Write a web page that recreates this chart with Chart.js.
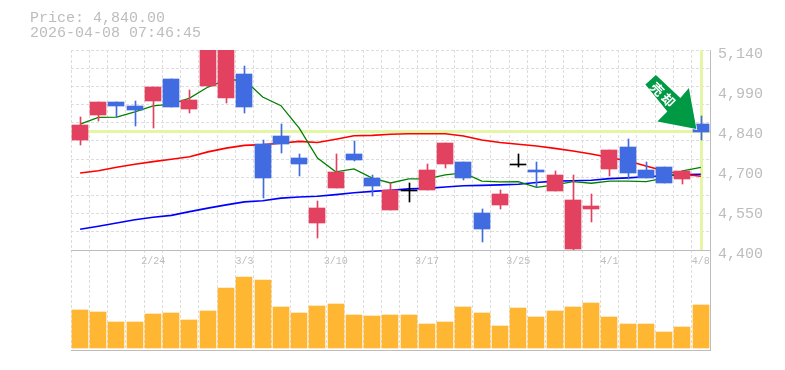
<!DOCTYPE html>
<html>
<head>
<meta charset="utf-8">
<style>html,body{margin:0;padding:0;background:#fff}canvas{display:block}</style>
<script src="https://cdn.jsdelivr.net/npm/chart.js@4"></script>
</head>
<body>
<canvas id="c" width="785" height="370"></canvas>
<script>
const categories = ['2/17','2/18','2/19','2/20','2/24','2/25','2/26','2/27','3/2','3/3','3/4','3/5','3/6','3/9','3/10','3/11','3/12','3/13','3/16','3/17','3/18','3/19','3/23','3/24','3/25','3/26','3/27','3/30','3/31','4/1','4/2','4/3','4/6','4/7','4/8'];
const xTickLabels = ['2/24','3/3','3/10','3/17','3/25','4/1','4/8'];
const bodyHigh = [4862,4948,4948,4933,5003,5033,4955,5170,5170,5051,4792,4822,4740,4555,4689,4755,4666,4622,4622,4696,4796,4726,4537,4607,4718,4696,4678,4585,4563,4770,4781,4696,4707,4692,4866];
const bodyLow  = [4807,4900,4933,4918,4951,4929,4922,5007,4962,4929,4666,4792,4718,4500,4629,4733,4637,4548,4619,4622,4718,4666,4478,4567,4715,4689,4618,4404,4552,4700,4685,4666,4648,4663,4838];
const wickHigh = [4892,4948,4948,4951,5003,5033,4992,5170,5170,5081,4807,4866,4755,4581,4755,4803,4678,4648,4648,4718,4796,4726,4552,4622,4755,4726,4692,4678,4607,4770,4811,4726,4707,4692,4896];
const wickLow  = [4788,4878,4892,4859,4851,4929,4907,5007,4944,4907,4592,4759,4674,4444,4629,4729,4600,4548,4578,4622,4703,4659,4430,4552,4707,4633,4618,4396,4504,4674,4663,4666,4648,4644,4807];
const candleKinds = ['r','r','b','b','r','b','r','r','r','b','b','b','b','r','r','b','b','r','k','r','r','b','b','r','k','b','r','r','r','r','b','b','b','r','b'];
const maShort = [4866,4891,4892,4911,4933,4940,4962,5003,5029,5029,4966,4934,4851,4740,4689,4700,4666,4648,4663,4663,4678,4685,4655,4652,4653,4632,4641,4653,4647,4655,4655,4653,4666,4693,4706];
const maMid   = [4685,4693,4706,4717,4727,4736,4745,4763,4777,4787,4790,4795,4802,4798,4810,4823,4824,4828,4830,4830,4830,4822,4807,4798,4791,4785,4776,4766,4755,4742,4729,4711,4692,4680,4673];
const maLong  = [4477,4488,4500,4512,4521,4528,4542,4555,4567,4578,4582,4592,4596,4599,4605,4612,4617,4621,4626,4628,4633,4638,4639,4641,4643,4650,4655,4656,4658,4664,4667,4671,4675,4679,4680];
const volumes = [38,36,26,26,34,35,28,37,60,71,68,41,35,42,44,33,32,33,33,24,26,41,35,22,40,31,37,41,45,31,24,24,16,21,43];
const priceTickValues = [5140,4992,4844,4696,4548,4400];
const priceTickLabels = ['5,140','4,990','4,840','4,700','4,550','4,400'];
const priceGridCount = 11;
const priceMin = 4400, priceMax = 5140;
const currentPrice = 4840;
const headerLines = ['Price: 4,840.00','2026-04-08 07:46:45'];
const arrowText = ['売','却'];

const kindColors = {r:'#E2425F', b:'#416BE1', k:'#000000'};
const candleColors = candleKinds.map(k => kindColors[k]);
const gray = '#bdbdbd', gridGray = '#dddddd', lime = '#E4F5A5', textGray = '#bdbdbd';
const monoFont = '"Liberation Mono", monospace';

const gridValues = [];
for (let i = 0; i <= priceGridCount; i++) gridValues.push(priceMin + (priceMax - priceMin) * i / priceGridCount);

const overlay = {
  id: 'overlay',
  afterDatasetsUpdate(chart) {
    // snap the library-computed bar rectangles to whole pixels for crisp edges
    chart.data.datasets.forEach((ds, di) => {
      if (ds.type !== 'bar') return;
      chart.getDatasetMeta(di).data.forEach(el => {
        const left = Math.round(el.x - 8.2);
        el.x = ds.barThickness === 1 ? left + 8.5 : left + 8;
        let top = Math.round(el.y), bot = Math.round(el.base);
        if (bot === top) bot = top + 1;
        el.y = top; el.base = bot; el.height = bot - top;
      });
    });
  },
  beforeDatasetsDraw(chart) {
    const {ctx, chartArea: a, scales} = chart;
    const y = scales.y.getPixelForValue(currentPrice);
    const x = scales.x.getPixelForValue(categories[categories.length - 1]);
    ctx.save();
    ctx.strokeStyle = lime; ctx.lineWidth = 3;
    ctx.beginPath();
    ctx.moveTo(a.left, Math.round(y)+0.5); ctx.lineTo(a.right, Math.round(y)+0.5);
    ctx.moveTo(Math.round(x)+0.5, scales.y.top); ctx.lineTo(Math.round(x)+0.5, scales.y.bottom);
    ctx.stroke();
    ctx.restore();
  },
  afterDatasetsDraw(chart) {
    const {ctx, scales} = chart;
    const tx = scales.x.getPixelForValue(categories[categories.length - 1]) - 4.5;
    const ty = scales.y.getPixelForValue(currentPrice) - 2;
    ctx.save();
    ctx.translate(tx, ty);
    ctx.beginPath();
    const pts = [[0,0],[-7.5,-41],[-16,-31],[-40.5,-54],[-51,-44.5],[-29,-17.5],[-39,-7.5]];
    pts.forEach((p,i) => i ? ctx.lineTo(p[0],p[1]) : ctx.moveTo(p[0],p[1]));
    ctx.closePath();
    ctx.lineWidth = 1.5; ctx.strokeStyle = '#ffffff'; ctx.stroke();
    ctx.fillStyle = '#009944'; ctx.fill();
    ctx.fillStyle = '#ffffff';
    ctx.font = 'bold 13px "Noto Sans CJK JP"';
    ctx.textAlign = 'center'; ctx.textBaseline = 'middle';
    [[-39,-40],[-28,-29]].forEach((p,i) => {
      ctx.save(); ctx.translate(p[0],p[1]); ctx.rotate(Math.PI/4);
      ctx.fillText(arrowText[i],0,0); ctx.restore();
    });
    ctx.restore();
  },
  afterDraw(chart) {
    const {ctx} = chart;
    ctx.save();
    ctx.fillStyle = textGray; ctx.font = '15px ' + monoFont;
    ctx.textAlign = 'left'; ctx.textBaseline = 'alphabetic';
    ctx.fillText(headerLines[0], 30, 22);
    ctx.fillText(headerLines[1], 30, 37);
    ctx.restore();
  }
};

new Chart(document.getElementById('c'), {
  data: {
    labels: categories,
    datasets: [
      {type:'line', data:maLong,  borderColor:'#0000ff', borderWidth:1.6, pointRadius:0, tension:0, order:5, yAxisID:'y'},
      {type:'line', data:maMid,   borderColor:'#ff0000', borderWidth:1.6, pointRadius:0, tension:0, order:4, yAxisID:'y'},
      {type:'line', data:maShort, borderColor:'#008000', borderWidth:1.3, pointRadius:0, tension:0, order:3, yAxisID:'y'},
      {type:'bar', data:wickLow.map((v,i)=>[v,wickHigh[i]]), backgroundColor:candleColors, barThickness:1, borderSkipped:false, order:2, yAxisID:'y'},
      {type:'bar', data:bodyLow.map((v,i)=>[v,bodyHigh[i]]), backgroundColor:candleColors, barThickness:16, borderSkipped:false, order:1, yAxisID:'y'},
      {type:'bar', data:volumes, backgroundColor:'#FFB733', barThickness:16, order:6, yAxisID:'vol'}
    ]
  },
  options: {
    responsive:false, animation:false,
    devicePixelRatio:1,
    layout:{padding:{left:71, top:50, bottom:20, right:0}},
    datasets:{bar:{grouped:false}},
    plugins:{legend:{display:false}, tooltip:{enabled:false}, title:{display:false}},
    scales:{
      x:{
        type:'category', offset:true, position:{vol:98},
        grid:{offset:true, color:gridGray, lineWidth:1, drawTicks:false},
        border:{color:gray, width:1, dash:[3,2]},
        ticks:{
          autoSkip:false, maxRotation:0, minRotation:0, padding:5,
          color:textGray, font:{family:monoFont, size:10},
          callback(v){ const l=this.getLabelForValue(v); return xTickLabels.includes(l)?l:''; }
        }
      },
      y:{
        type:'linear', position:'right', stack:'p', stackWeight:2, min:priceMin, max:priceMax,
        afterBuildTicks(s){
          const all=[...new Set([...gridValues,...priceTickValues])].sort((a,b)=>a-b);
          s.ticks=all.map(value=>({value}));
        },
        afterFit(s){ s.width=75; },
        grid:{drawTicks:false, lineWidth:1, color(ctx){
          const v=ctx.tick&&ctx.tick.value;
          return gridValues.some(g=>Math.abs(g-v)<1e-6)?gridGray:'rgba(0,0,0,0)';
        }},
        border:{color:gray, width:1, dash:[3,2]},
        ticks:{
          autoSkip:false, padding:8, labelOffset:4, color:textGray, font:{family:monoFont, size:15},
          callback(v){ const i=priceTickValues.indexOf(v); return i>=0?priceTickLabels[i]:''; }
        }
      },
      vol:{
        type:'linear', position:'right', stack:'p', stackWeight:1, min:-2, max:98,
        afterBuildTicks(s){ s.ticks=[{value:-2}]; },
        afterFit(s){ s.width=75; },
        grid:{drawTicks:false, color:gray, lineWidth:1},
        border:{color:gray, width:1},
        ticks:{display:false}
      }
    }
  },
  plugins:[overlay]
});
</script>
</body>
</html>
